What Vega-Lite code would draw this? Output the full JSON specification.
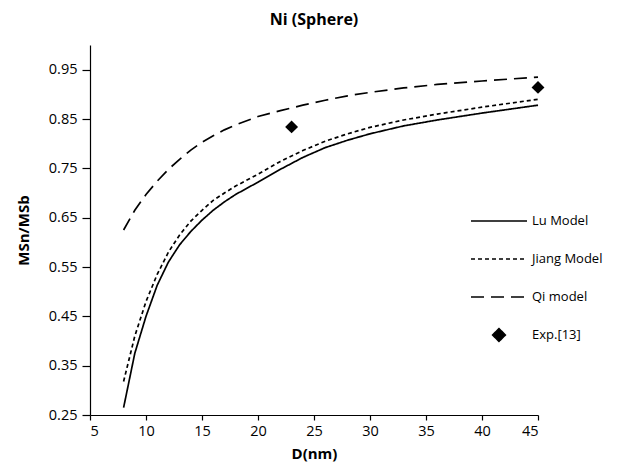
{
  "$schema": "https://vega.github.io/schema/vega-lite/v6.json",
  "width": 448,
  "height": 370,
  "autosize": "none",
  "padding": {"left": 90, "top": 45, "right": 90, "bottom": 56},
  "background": "white",
  "title": {"text": "Ni (Sphere)", "fontSize": 16, "fontWeight": "bold", "font": "Open Sans", "color": "black", "offset": 17, "anchor": "middle"},
  "config": {
    "view": {"stroke": null},
    "font": "Open Sans",
    "axis": {"grid": false, "domainColor": "black", "tickColor": "black", "labelColor": "black", "titleColor": "black", "labelFontSize": 14.5, "titleFontSize": 15, "titleFontWeight": "bold", "labelFont": "Open Sans", "titleFont": "Open Sans", "domainWidth": 1.2, "tickWidth": 1.2},
    "legend": {"labelFont": "Open Sans", "labelFontSize": 13, "labelColor": "black"}
  },
  "data": {"values": [
    {"D": 8, "v": 0.265, "series": "Lu Model"},
    {"D": 9, "v": 0.375, "series": "Lu Model"},
    {"D": 10, "v": 0.45, "series": "Lu Model"},
    {"D": 11, "v": 0.513, "series": "Lu Model"},
    {"D": 12, "v": 0.56, "series": "Lu Model"},
    {"D": 13, "v": 0.595, "series": "Lu Model"},
    {"D": 14, "v": 0.622, "series": "Lu Model"},
    {"D": 15, "v": 0.645, "series": "Lu Model"},
    {"D": 16, "v": 0.665, "series": "Lu Model"},
    {"D": 17, "v": 0.682, "series": "Lu Model"},
    {"D": 18, "v": 0.697, "series": "Lu Model"},
    {"D": 20, "v": 0.722, "series": "Lu Model"},
    {"D": 22, "v": 0.748, "series": "Lu Model"},
    {"D": 24, "v": 0.772, "series": "Lu Model"},
    {"D": 26, "v": 0.792, "series": "Lu Model"},
    {"D": 28, "v": 0.807, "series": "Lu Model"},
    {"D": 30, "v": 0.82, "series": "Lu Model"},
    {"D": 33, "v": 0.836, "series": "Lu Model"},
    {"D": 36, "v": 0.848, "series": "Lu Model"},
    {"D": 40, "v": 0.862, "series": "Lu Model"},
    {"D": 45, "v": 0.878, "series": "Lu Model"},
    {"D": 8, "v": 0.318, "series": "Jiang Model"},
    {"D": 9, "v": 0.41, "series": "Jiang Model"},
    {"D": 10, "v": 0.48, "series": "Jiang Model"},
    {"D": 11, "v": 0.535, "series": "Jiang Model"},
    {"D": 12, "v": 0.58, "series": "Jiang Model"},
    {"D": 13, "v": 0.615, "series": "Jiang Model"},
    {"D": 14, "v": 0.643, "series": "Jiang Model"},
    {"D": 15, "v": 0.665, "series": "Jiang Model"},
    {"D": 16, "v": 0.685, "series": "Jiang Model"},
    {"D": 17, "v": 0.7, "series": "Jiang Model"},
    {"D": 18, "v": 0.714, "series": "Jiang Model"},
    {"D": 20, "v": 0.738, "series": "Jiang Model"},
    {"D": 22, "v": 0.764, "series": "Jiang Model"},
    {"D": 24, "v": 0.786, "series": "Jiang Model"},
    {"D": 26, "v": 0.805, "series": "Jiang Model"},
    {"D": 28, "v": 0.82, "series": "Jiang Model"},
    {"D": 30, "v": 0.833, "series": "Jiang Model"},
    {"D": 33, "v": 0.848, "series": "Jiang Model"},
    {"D": 36, "v": 0.86, "series": "Jiang Model"},
    {"D": 40, "v": 0.874, "series": "Jiang Model"},
    {"D": 45, "v": 0.89, "series": "Jiang Model"},
    {"D": 8, "v": 0.625, "series": "Qi model"},
    {"D": 9, "v": 0.665, "series": "Qi model"},
    {"D": 10, "v": 0.697, "series": "Qi model"},
    {"D": 11, "v": 0.724, "series": "Qi model"},
    {"D": 12, "v": 0.748, "series": "Qi model"},
    {"D": 13, "v": 0.768, "series": "Qi model"},
    {"D": 14, "v": 0.787, "series": "Qi model"},
    {"D": 15, "v": 0.803, "series": "Qi model"},
    {"D": 16, "v": 0.816, "series": "Qi model"},
    {"D": 17, "v": 0.828, "series": "Qi model"},
    {"D": 18, "v": 0.838, "series": "Qi model"},
    {"D": 20, "v": 0.855, "series": "Qi model"},
    {"D": 22, "v": 0.867, "series": "Qi model"},
    {"D": 24, "v": 0.878, "series": "Qi model"},
    {"D": 26, "v": 0.888, "series": "Qi model"},
    {"D": 28, "v": 0.897, "series": "Qi model"},
    {"D": 30, "v": 0.904, "series": "Qi model"},
    {"D": 33, "v": 0.913, "series": "Qi model"},
    {"D": 36, "v": 0.92, "series": "Qi model"},
    {"D": 40, "v": 0.927, "series": "Qi model"},
    {"D": 45, "v": 0.935, "series": "Qi model"},
    {"D": 23, "v": 0.834, "series": "Exp.[13]"},
    {"D": 45, "v": 0.914, "series": "Exp.[13]"}
  ]},
  "encoding": {
    "x": {"field": "D", "type": "quantitative", "scale": {"domain": [5, 45], "nice": false, "zero": false},
      "axis": {"values": [5, 10, 15, 20, 25, 30, 35, 40, 45], "title": "D(nm)", "tickSize": 5, "labelPadding": 4, "titlePadding": 9}},
    "y": {"field": "v", "type": "quantitative", "scale": {"domain": [0.25, 1.0], "nice": false, "zero": false},
      "axis": {"values": [0.25, 0.35, 0.45, 0.55, 0.65, 0.75, 0.85, 0.95], "format": ".2f", "title": "MSn/MSb", "tickSize": 8, "labelPadding": 5, "titlePadding": 17}}
  },
  "layer": [
    {
      "transform": [{"filter": "datum.series !== 'Exp.[13]'"}],
      "mark": {"type": "line", "color": "black", "strokeWidth": 1.7},
      "encoding": {
        "strokeDash": {"field": "series", "type": "nominal",
          "scale": {"domain": ["Lu Model", "Jiang Model", "Qi model", "Exp.[13]"], "range": [[1, 0], [4, 3], [13, 7], [1, 0]]},
          "legend": {"orient": "none", "legendX": 380, "legendY": 147, "title": null, "symbolSize": 3136, "symbolStrokeWidth": 1.5, "symbolStrokeColor": "black", "symbolFillColor": "black", "labelOffset": 4, "rowPadding": 2,
            "encode": {"symbols": {"update": {"fill": {"value": "black"}, "stroke": {"value": "black"}}}}}}
      }
    },
    {
      "transform": [{"filter": "datum.series === 'Exp.[13]'"}],
      "mark": {"type": "point", "filled": true, "color": "black", "size": 3136, "opacity": 1},
      "encoding": {
        "shape": {"field": "series", "type": "nominal",
          "scale": {"domain": ["Lu Model", "Jiang Model", "Qi model", "Exp.[13]"], "range": ["stroke", "stroke", "stroke", "M0,-0.23L0.23,0L0,0.23L-0.23,0Z"]},
          "legend": {"orient": "none", "legendX": 380, "legendY": 147, "title": null, "symbolSize": 3136, "symbolStrokeWidth": 1.5, "symbolStrokeColor": "black", "symbolFillColor": "black", "labelOffset": 4, "rowPadding": 2,
            "encode": {"symbols": {"update": {"fill": {"value": "black"}, "stroke": {"value": "black"}}}}}}
      }
    }
  ]
}
